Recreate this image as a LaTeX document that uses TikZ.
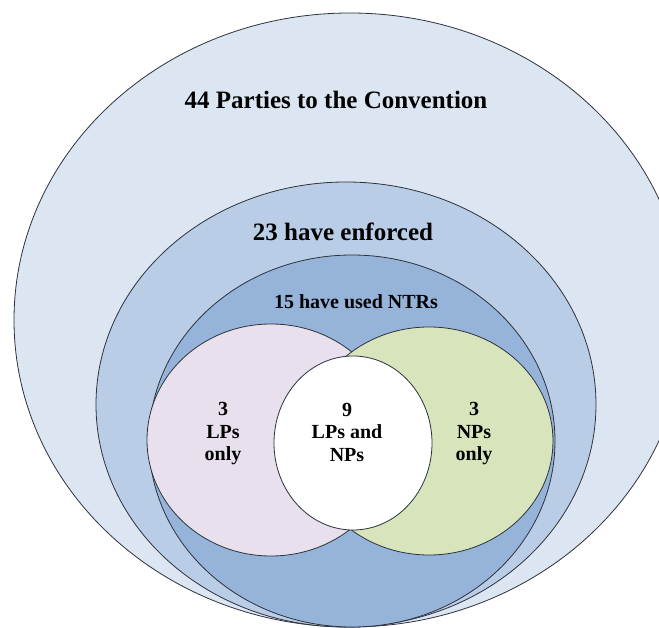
\documentclass[tikz,border=0pt]{standalone}
\usepackage{fontspec}
\setmainfont{Liberation Serif}
\definecolor{outerfill}{RGB}{220,230,242}
\definecolor{enffill}{RGB}{186,205,230}
\definecolor{ntrfill}{RGB}{150,180,218}
\definecolor{lpfill}{RGB}{232,224,236}
\definecolor{npfill}{RGB}{215,228,188}
\definecolor{edge}{RGB}{45,50,60}
\begin{document}
\begin{tikzpicture}[x=1pt,y=-1pt,
  ring/.style={draw=edge,line width=0.8pt},
  bigtext/.style={font=\fontsize{25}{28}\selectfont\bfseries,text=black,inner sep=0pt},
  smalltext/.style={font=\fontsize{20}{22.5}\selectfont\bfseries,text=black,align=center,inner sep=0pt}]
\useasboundingbox (0,0) rectangle (659,628);
\begin{scope}
\clip (0,0) rectangle (659,628);
\fill[white] (0,0) rectangle (659,628);
\path[ring,fill=outerfill] (350,320) ellipse [x radius=336pt, y radius=307pt];
\path[ring,fill=enffill] (346,404.5) ellipse [x radius=250pt, y radius=222.5pt];
\path[ring,fill=ntrfill] (352,441) ellipse [x radius=203pt, y radius=186pt];
\path[ring,fill=lpfill] (271,440) ellipse [x radius=124pt, y radius=116pt];
\path[ring,fill=npfill] (429,441) ellipse [x radius=124pt, y radius=114pt];
\path[ring,fill=white] (353,443) ellipse [x radius=79pt, y radius=87pt];
\end{scope}
\node[bigtext] (parties) at (336,100) {44 Parties to the Convention};
\node[bigtext] (enforced) at (343,232) {23 have enforced};
\node[font=\fontsize{20}{22}\selectfont\bfseries,inner sep=0pt] (ntr) at (356,302) {15 have used NTRs};
\node[smalltext] (lp) at (223,434) {3\\LPs\\only};
\node[smalltext] (both) at (347,432) {9\\LPs and\\NPs};
\node[smalltext] (np) at (474,434) {3\\NPs\\only};
\end{tikzpicture}
\end{document}
